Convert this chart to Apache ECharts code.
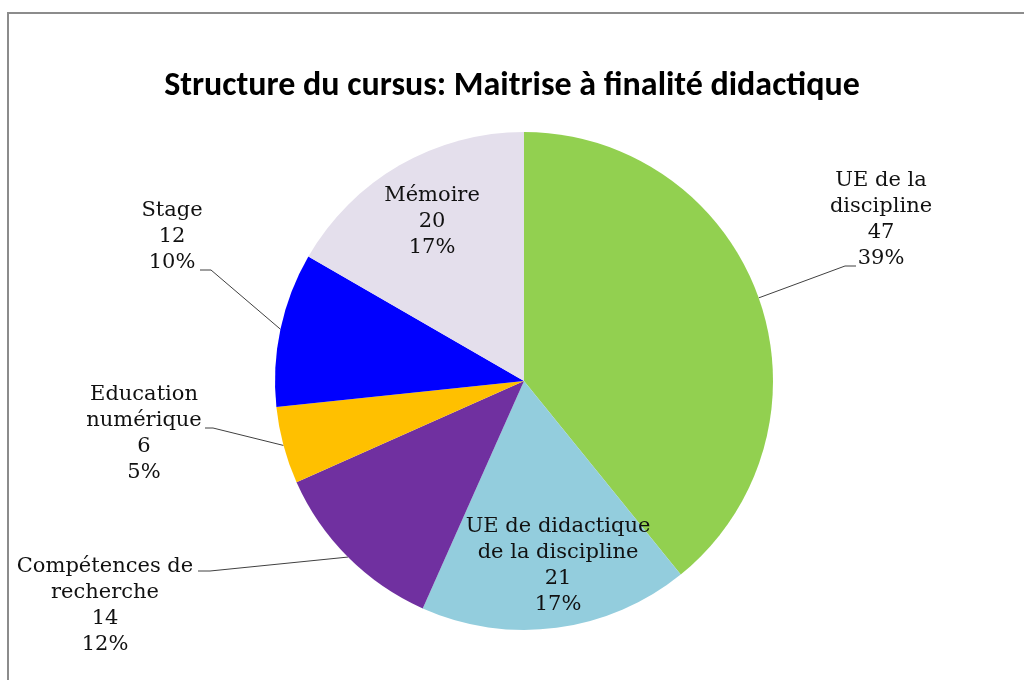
<!DOCTYPE html>
<html><head><meta charset="utf-8">
<script src="https://cdn.jsdelivr.net/npm/echarts@6/dist/echarts.min.js"></script>
<style>html,body{margin:0;padding:0;background:#fff}#c{width:1024px;height:680px}</style>
</head><body><div id="c"></div>
<script>
// ---- data ----
const titleText = 'Structure du cursus: Maitrise à finalité didactique';
const categories = ['UE de la discipline', 'UE de didactique de la discipline', 'Compétences de recherche', 'Education numérique', 'Stage', 'Mémoire'];
const labelNames = ['UE de la\ndiscipline', 'UE de didactique\nde la discipline', 'Compétences de\nrecherche', 'Education\nnumérique', 'Stage', 'Mémoire'];
const values = [47, 21, 14, 6, 12, 20];
const insideLabel = [false, true, false, false, false, true];

// ---- styles / layout ----
const colors = ['#92D050', '#93CDDD', '#7030A0', '#FFC000', '#0000FF', '#E4DFEC'];
const labelAnchors = [[881, 220], [558, 566], [105, 606], [144, 434], [172, 237], [432, 222]];
const lineEnds = [[[845, 266], [856, 266]], null, [[210, 571], [198, 571]], [[213, 428], [205, 428]], [[211, 270], [200, 270]], null];

const chart = echarts.init(document.getElementById('c'));
const data = categories.map((n, i) => ({
  name: n,
  value: values[i],
  itemStyle: { color: colors[i] },
  labelLine: { show: !insideLabel[i] }
}));

chart.setOption({
  animation: false,
  title: {
    text: titleText,
    left: 'center',
    top: 64,
    textStyle: { fontFamily: 'Carlito, Lato, sans-serif', fontWeight: 'bold', fontSize: 34, color: '#000' }
  },
  graphic: [{
    type: 'rect',
    shape: { x: 8, y: 13, width: 1100, height: 720 },
    style: { fill: 'none', stroke: '#8c8c8c', lineWidth: 2 },
    silent: true
  }],
  series: [{
    type: 'pie',
    center: [524, 381],
    radius: 249,
    startAngle: 90,
    clockwise: true,
    percentPrecision: 0,
    data: data,
    itemStyle: { borderWidth: 0 },
    label: {
      show: true,
      position: 'outside',
      formatter: p => labelNames[p.dataIndex] + '\n' + p.value + '\n' + p.percent + '%',
      fontFamily: '"DejaVu Serif", serif',
      fontSize: 21,
      lineHeight: 26,
      color: '#111',
      align: 'center'
    },
    labelLine: { show: true, lineStyle: { color: '#404040', width: 1 } },
    labelLayout: function (params) {
      const i = params.dataIndex;
      const res = { x: labelAnchors[i][0], y: labelAnchors[i][1], align: 'center', verticalAlign: 'middle' };
      if (lineEnds[i] && params.labelLinePoints) {
        const p0 = params.labelLinePoints[0];
        res.labelLinePoints = [[p0[0], p0[1]], lineEnds[i][0], lineEnds[i][1]];
      }
      return res;
    }
  }]
});
</script></body></html>
